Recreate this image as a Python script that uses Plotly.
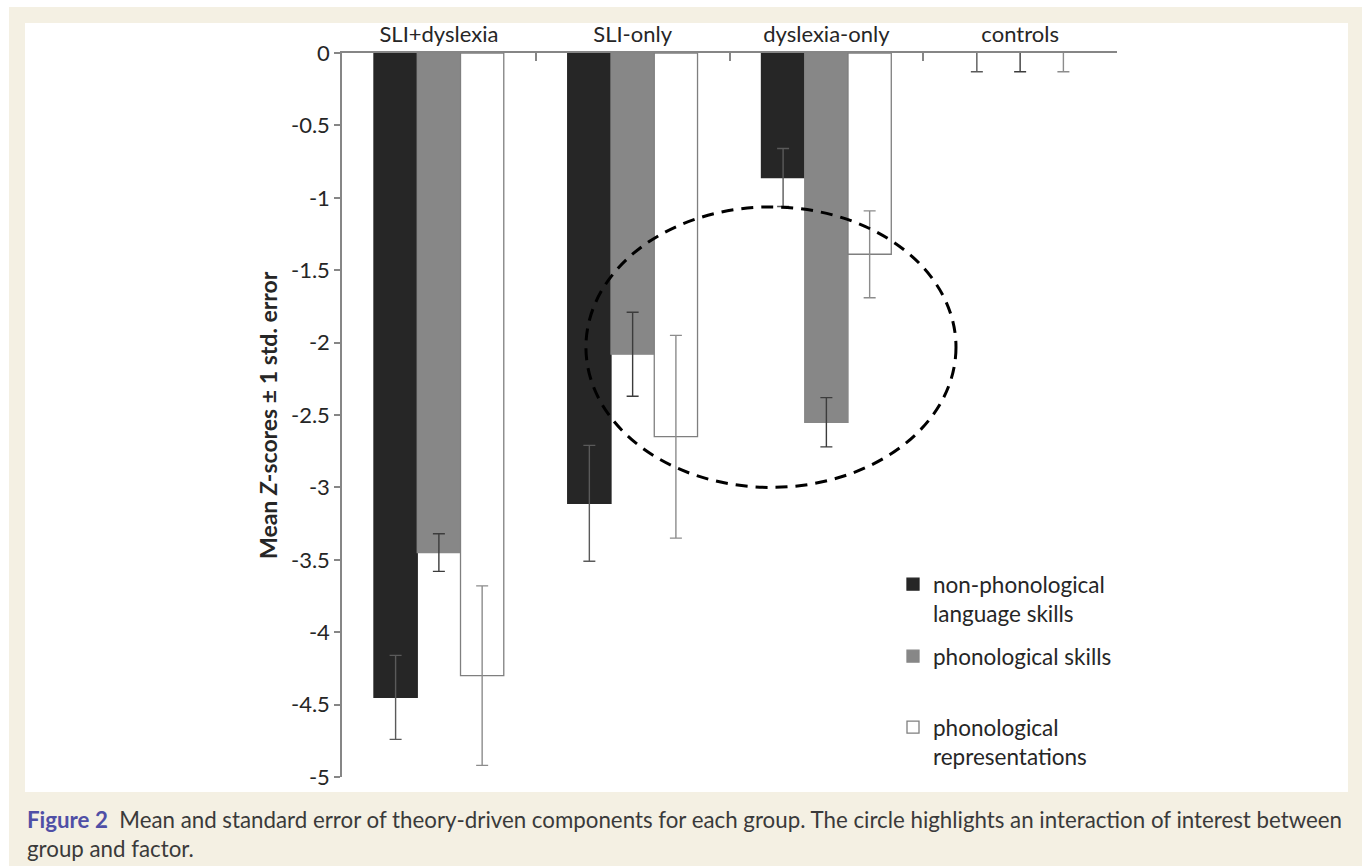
import plotly.graph_objects as go

# ---------------- data ----------------
groups = ["SLI+dyslexia", "SLI-only", "dyslexia-only", "controls"]
series_names = ["non-phonological<br>language skills", "phonological skills", "phonological<br>representations"]
nonphon_mean = [-4.45, -3.11, -0.86, 0.0]
nonphon_se = [0.29, 0.40, 0.20, 0.13]
phon_skills_mean = [-3.45, -2.08, -2.55, 0.0]
phon_skills_se = [0.13, 0.29, 0.17, 0.13]
phon_repr_mean = [-4.30, -2.65, -1.39, 0.0]
phon_repr_se = [0.62, 0.70, 0.30, 0.13]
y_tick_values = [0, -0.5, -1, -1.5, -2, -2.5, -3, -3.5, -4, -4.5, -5]
y_tick_labels = ["0", "-0.5", "-1", "-1.5", "-2", "-2.5", "-3", "-3.5", "-4", "-4.5", "-5"]

# ---------------- layout geometry (pixels) ----------------
W, H = 1365, 866
L, R, T, B = 342, 1117, 53, 777
def px_x(p):
    return (p - L) / (R - L)
def px_y(p):
    return (B - p) / (B - T)

FONT = "Lato, sans-serif"
TXT = "#262626"
AXC = "#868686"

fills = ["#262626", "#878787", "#ffffff"]
outlines = ["#262626", "#878787", "#7f7f7f"]
errcols = ["#5a5a5a", "#3c3c3c", "#8c8c8c"]
means = [nonphon_mean, phon_skills_mean, phon_repr_mean]
ses = [nonphon_se, phon_skills_se, phon_repr_se]
legend_ids = ["legend", "legend2", "legend3"]
legend_tops = [563, 635, 706]

fig = go.Figure()
for i in range(3):
    line_w = [0 if v == 0 else 1.3 for v in means[i]]
    fig.add_trace(go.Bar(
        x=groups, y=means[i], name=series_names[i],
        marker=dict(color=fills[i], line=dict(color=outlines[i], width=line_w)),
        error_y=dict(type="data", array=ses[i], visible=True,
                     color=errcols[i], thickness=1.4, width=6),
        legend=legend_ids[i],
    ))

shapes = [
    # beige page box
    dict(type="rect", xref="paper", yref="paper", layer="below",
         x0=px_x(9), x1=px_x(1362), y0=px_y(866), y1=px_y(7),
         fillcolor="#f4f0e3", line=dict(width=0)),
    # white chart panel
    dict(type="rect", xref="paper", yref="paper", layer="below",
         x0=px_x(25), x1=px_x(1348), y0=px_y(792), y1=px_y(23),
         fillcolor="#ffffff", line=dict(width=0)),
    # dashed ellipse highlighting interaction
    dict(type="circle", xref="x", yref="y", layer="above",
         x0=0.759, x1=2.669, y0=-3.0, y1=-1.063,
         line=dict(color="#000000", width=3, dash="12px,8px")),
]

CAPFONT = dict(family="Lato, sans-serif", size=22.3, color="#3a3a3a")
annotations = [
    dict(text="<b>Mean <i>Z</i>-scores ± 1 std. error</b>", textangle=-90,
         xref="paper", yref="paper", x=px_x(268), y=px_y(415),
         xanchor="center", yanchor="middle", showarrow=False,
         font=dict(family=FONT, size=23, color=TXT)),
    dict(text="<span style='color:#4f4fa6'><b>Figure 2</b></span>  Mean and standard error of theory-driven components for each group. The circle highlights an interaction of interest between",
         xref="paper", yref="paper", x=px_x(25), y=px_y(819),
         xanchor="left", yanchor="middle", showarrow=False, font=CAPFONT),
    dict(text="group and factor.",
         xref="paper", yref="paper", x=px_x(25), y=px_y(848),
         xanchor="left", yanchor="middle", showarrow=False, font=CAPFONT),
]

legend_common = dict(xanchor="left", yanchor="top", bgcolor="rgba(0,0,0,0)",
                     font=dict(family=FONT, size=22.5, color=TXT), valign="top")

fig.update_layout(
    width=W, height=H,
    margin=dict(l=L, r=W - R, t=T, b=H - B, pad=0),
    paper_bgcolor="#ffffff", plot_bgcolor="rgba(0,0,0,0)",
    barmode="group", bargap=0.33, bargroupgap=0,
    font=dict(family=FONT, size=22, color=TXT),
    showlegend=True,
    legend=dict(x=px_x(893), y=px_y(legend_tops[0]), **legend_common),
    legend2=dict(x=px_x(893), y=px_y(legend_tops[1]), **legend_common),
    legend3=dict(x=px_x(893), y=px_y(legend_tops[2]), **legend_common),
    shapes=shapes, annotations=annotations,
    xaxis=dict(type="category", side="top", showline=True, linecolor=AXC, linewidth=1.5,
               ticks="inside", tickson="boundaries", ticklen=8, tickcolor=AXC, tickwidth=1.5,
               showgrid=False, zeroline=False,
               tickfont=dict(family=FONT, size=22, color=TXT)),
    yaxis=dict(range=[-5, 0], showline=True, linecolor=AXC, linewidth=1.5,
               tickmode="array", tickvals=y_tick_values, ticktext=y_tick_labels,
               ticks="outside", ticklen=6, tickcolor=AXC, tickwidth=1.5,
               showgrid=False, zeroline=False,
               tickfont=dict(family=FONT, size=22, color=TXT)),
)

fig.write_html("out.html")
